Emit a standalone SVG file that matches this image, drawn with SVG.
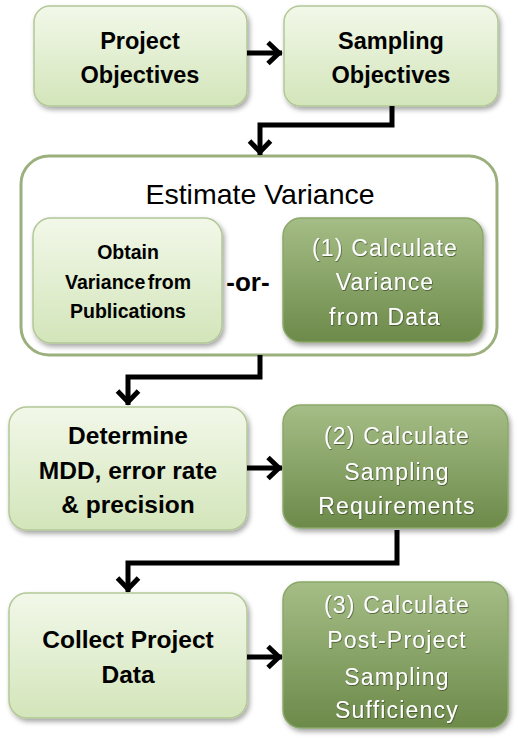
<svg xmlns="http://www.w3.org/2000/svg" width="518" height="743" viewBox="0 0 518 743">
<defs>
<linearGradient id="gLight" x1="0" y1="0" x2="0" y2="1">
<stop offset="0" stop-color="#f2f8e9"/>
<stop offset="1" stop-color="#d3e5ba"/>
</linearGradient>
<linearGradient id="gDark" x1="0" y1="0" x2="0" y2="1">
<stop offset="0" stop-color="#a5bd86"/>
<stop offset="1" stop-color="#6c8a4a"/>
</linearGradient>
<filter id="shadow" x="-10%" y="-10%" width="125%" height="130%">
<feDropShadow dx="2" dy="3" stdDeviation="2.5" flood-color="#000" flood-opacity="0.35"/>
</filter>
<filter id="tglow" x="-5%" y="-20%" width="110%" height="140%">
<feDropShadow dx="0.6" dy="0.8" stdDeviation="0.6" flood-color="#2e3a1e" flood-opacity="0.8"/>
</filter>
<marker id="arr" markerUnits="userSpaceOnUse" markerWidth="30" markerHeight="30" viewBox="-22 -15 30 30" refX="0" refY="0" orient="auto">
<path d="M-14,-10.5 L-3,0 L-14,10.5" fill="none" stroke="#000" stroke-width="5" stroke-linejoin="miter"/>
</marker>
</defs>
<style>
.light{fill:url(#gLight);stroke:#b3c796;stroke-width:1.5;filter:url(#shadow)}
.dark{fill:url(#gDark);stroke:#8ba86a;stroke-width:1.5;filter:url(#shadow)}
.bt{font-family:"Liberation Sans",Arial,sans-serif;font-weight:bold;fill:#000;text-anchor:middle}
.wt{font-family:"Liberation Sans",Arial,sans-serif;fill:#fff;text-anchor:middle;letter-spacing:1.2px;filter:url(#tglow)}
.conn path{fill:none;stroke:#000;stroke-width:5;marker-end:url(#arr)}
</style>
<rect width="518" height="743" fill="#fff"/>

<g id="estimate-variance">
<rect x="21" y="156" width="476" height="199" rx="28" fill="#fff" stroke="#9cb07e" stroke-width="3"/>
<text class="bt" font-size="28.5" x="260" y="204" style="font-weight:normal">Estimate Variance</text>
</g>

<g id="project-objectives">
<rect class="light" x="34" y="6" width="213" height="100" rx="16"/>
<text class="bt" font-size="23.5" x="140" y="49">Project</text>
<text class="bt" font-size="23.5" x="140" y="83">Objectives</text>
</g>

<g id="sampling-objectives">
<rect class="light" x="284" y="6" width="214" height="100" rx="16"/>
<text class="bt" font-size="23.5" x="391" y="49">Sampling</text>
<text class="bt" font-size="23.5" x="391" y="83">Objectives</text>
</g>

<g id="obtain-variance">
<rect class="light" x="33" y="218" width="189" height="125" rx="18"/>
<text class="bt" font-size="19.5" x="128" y="259">Obtain</text>
<text class="bt" font-size="19.5" x="128" y="289" word-spacing="-3">Variance from</text>
<text class="bt" font-size="19.5" x="128" y="318">Publications</text>
</g>

<g id="or-label">
<text class="bt" font-size="26" x="248" y="291">-or-</text>
</g>

<g id="calc-variance">
<rect class="dark" x="283" y="218" width="200" height="124" rx="18"/>
<text class="wt" font-size="23" x="385" y="256">(1) Calculate</text>
<text class="wt" font-size="23" x="385" y="290">Variance</text>
<text class="wt" font-size="23" x="385" y="325">from Data</text>
</g>

<g id="determine-mdd">
<rect class="light" x="9" y="407" width="238" height="123" rx="18"/>
<text class="bt" font-size="24.5" x="128" y="444">Determine</text>
<text class="bt" font-size="24.5" x="128" y="479">MDD, error rate</text>
<text class="bt" font-size="24.5" x="128" y="513">&amp; precision</text>
</g>

<g id="calc-sampling">
<rect class="dark" x="283" y="405" width="225" height="123" rx="18"/>
<text class="wt" font-size="23" x="397" y="444">(2) Calculate</text>
<text class="wt" font-size="23" x="397" y="480">Sampling</text>
<text class="wt" font-size="23" x="397" y="514">Requirements</text>
</g>

<g id="collect-data">
<rect class="light" x="9" y="593" width="238" height="125" rx="18"/>
<text class="bt" font-size="24.5" x="128" y="648">Collect Project</text>
<text class="bt" font-size="24.5" x="128" y="683">Data</text>
</g>

<g id="calc-sufficiency">
<rect class="dark" x="283" y="582" width="225" height="146" rx="18"/>
<text class="wt" font-size="23" x="397" y="613">(3) Calculate</text>
<text class="wt" font-size="23" x="397" y="648">Post-Project</text>
<text class="wt" font-size="23" x="397" y="685">Sampling</text>
<text class="wt" font-size="23" x="397" y="718">Sufficiency</text>
</g>

<g id="connectors" class="conn">
<path d="M247,53 L282,53"/>
<path d="M392,106 L392,125 L260,125 L260,155"/>
<path d="M260,355 L260,377 L128,377 L128,405"/>
<path d="M247,468 L282,468"/>
<path d="M397,530 L397,563 L128,563 L128,592"/>
<path d="M247,657 L282,657"/>
</g>
</svg>
